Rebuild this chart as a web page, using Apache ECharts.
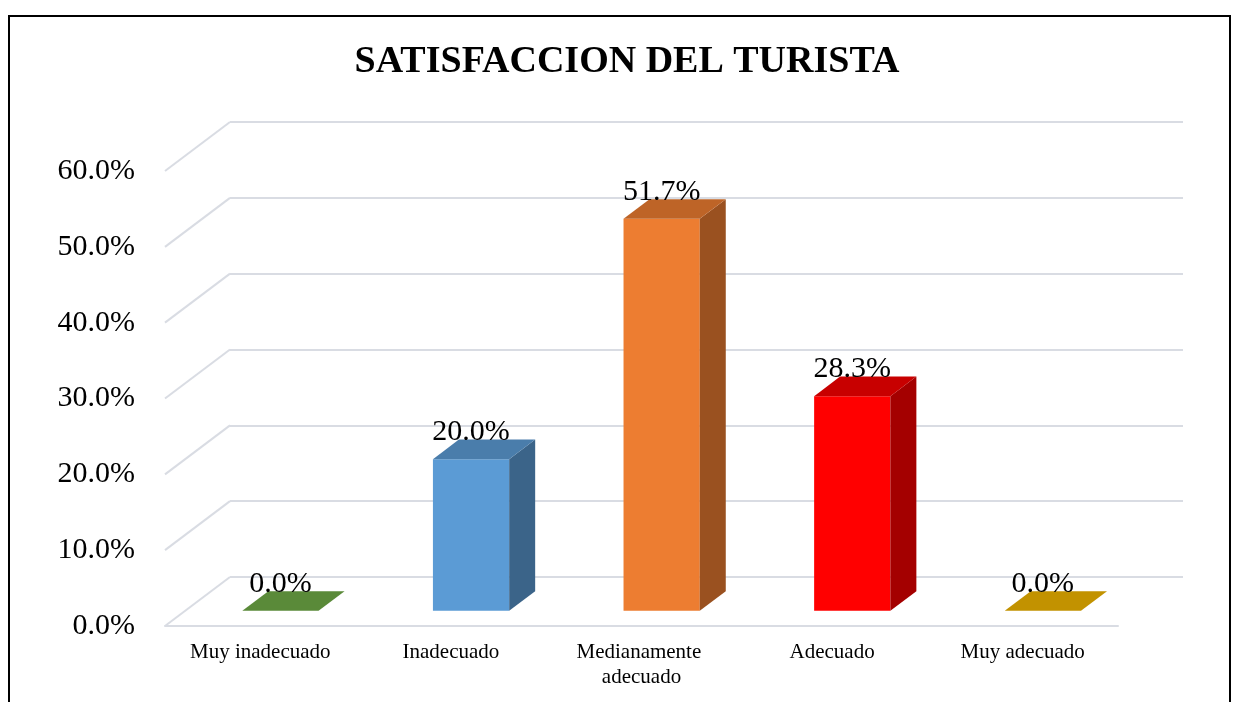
<!DOCTYPE html>
<html>
<head>
<meta charset="utf-8">
<script src="https://cdn.jsdelivr.net/npm/echarts@6/dist/echarts.min.js"></script>
<style>
html,body{margin:0;padding:0;background:#fff;}
#chart{width:1233px;height:702px;}
</style>
</head>
<body>
<div id="chart"></div>
<script>
// ---- data ----
const categories = ['Muy inadecuado', 'Inadecuado', 'Medianamente adecuado', 'Adecuado', 'Muy adecuado'];
const values = [0.0, 20.0, 51.7, 28.3, 0.0];
const yTicks = [0, 10, 20, 30, 40, 50, 60];

// ---- style ----
const frontColors = ['#70AD47', '#5B9BD5', '#ED7D31', '#FF0000', '#FFC000'];
const topColors   = ['#5A8A39', '#4A7DAB', '#BE6427', '#C80000', '#C29200'];
const sideColors  = ['#46702B', '#3B6489', '#9A5120', '#A40000', '#9C7600'];
const FONT = '"Liberation Serif", "Times New Roman", serif';
const DX = 65, DY = -49;        // oblique depth of the floor (px)
const D0 = 0.31, D1 = 0.71;     // bar depth span (fraction of floor depth)
const BAR_RATIO = 0.4;
const GRID_COLOR = '#D9DCE3';

const chart = echarts.init(document.getElementById('chart'), null, {renderer: 'canvas'});

function renderBar(params, api) {
  const i = api.value(0), v = api.value(1);
  const base = api.coord([i, 0]);
  const top = api.coord([i, v]);
  const band = api.size([1, 0])[0];
  const w = band * BAR_RATIO;
  const x0 = base[0] - w / 2 + D0 * DX, x1 = x0 + w;
  const yb = base[1] + D0 * DY, yt = top[1] + D0 * DY;
  const ddx = (D1 - D0) * DX, ddy = (D1 - D0) * DY;
  const idx = params.dataIndex;
  const children = [];
  if (yb - yt > 0.5) {
    children.push({type: 'polygon', shape: {points: [[x0, yb], [x1, yb], [x1, yt], [x0, yt]]},
      style: {fill: frontColors[idx]}});
    children.push({type: 'polygon', shape: {points: [[x1, yb], [x1 + ddx, yb + ddy], [x1 + ddx, yt + ddy], [x1, yt]]},
      style: {fill: sideColors[idx]}});
  }
  children.push({type: 'polygon', shape: {points: [[x0, yt], [x1, yt], [x1 + ddx, yt + ddy], [x0 + ddx, yt + ddy]]},
    style: {fill: topColors[idx]}});
  children.push({type: 'text', x: (x0 + x1) / 2, y: yt + ddy - 7,
    style: {text: v.toFixed(1) + '%', font: '30px ' + FONT, fill: '#000', align: 'center', verticalAlign: 'middle'}});
  return {type: 'group', children: children};
}

function renderDiag(params, api) {
  const v = api.value(1);
  const p = api.coord([0, v]);
  const x = params.coordSys.x;
  return {type: 'line', shape: {x1: x, y1: p[1], x2: x + DX, y2: p[1] + DY},
    style: {stroke: GRID_COLOR, lineWidth: 2}};
}

const option = {
  backgroundColor: '#fff',
  animation: false,
  graphic: [
    {type: 'rect', shape: {x: 9, y: 16, width: 1221, height: 720}, style: {fill: 'none', stroke: '#000', lineWidth: 2}, z: 0},
    {type: 'text', x: 627, y: 62, style: {text: 'SATISFACCION DEL TURISTA', font: 'bold 38px ' + FONT, fill: '#000', align: 'center', verticalAlign: 'middle'}, z: 10}
  ],
  grid: [
    {left: 165, right: 115, top: 171, bottom: 76},
    {left: 230, right: 50, top: 122, bottom: 125}
  ],
  xAxis: [
    {type: 'category', data: categories, gridIndex: 0,
      axisLine: {show: true, lineStyle: {color: GRID_COLOR, width: 2}},
      axisTick: {show: false},
      axisLabel: {interval: 0, margin: 14, color: '#000', fontFamily: FONT, fontSize: 21, lineHeight: 25,
        width: 170, overflow: 'break'},
      splitLine: {show: false}},
    {type: 'category', data: categories, gridIndex: 1, show: false}
  ],
  yAxis: [
    {type: 'value', gridIndex: 0, min: 0, max: 60, interval: 10,
      axisLine: {show: false}, axisTick: {show: false}, splitLine: {show: false},
      axisLabel: {margin: 30, color: '#000', fontFamily: FONT, fontSize: 30, padding: [9, 0, 0, 0],
        formatter: v => v.toFixed(1) + '%'}},
    {type: 'value', gridIndex: 1, min: 0, max: 60, interval: 10,
      axisLine: {show: false}, axisTick: {show: false}, axisLabel: {show: false},
      splitLine: {show: true, lineStyle: {color: GRID_COLOR, width: 2}}}
  ],
  series: [
    {type: 'custom', xAxisIndex: 0, yAxisIndex: 0, renderItem: renderDiag,
      data: yTicks.map(v => [0, v]), z: 1, silent: true},
    {type: 'custom', xAxisIndex: 0, yAxisIndex: 0, renderItem: renderBar,
      data: values.map((v, i) => [i, v]), z: 5, clip: false}
  ]
};
chart.setOption(option);
</script>
</body>
</html>
